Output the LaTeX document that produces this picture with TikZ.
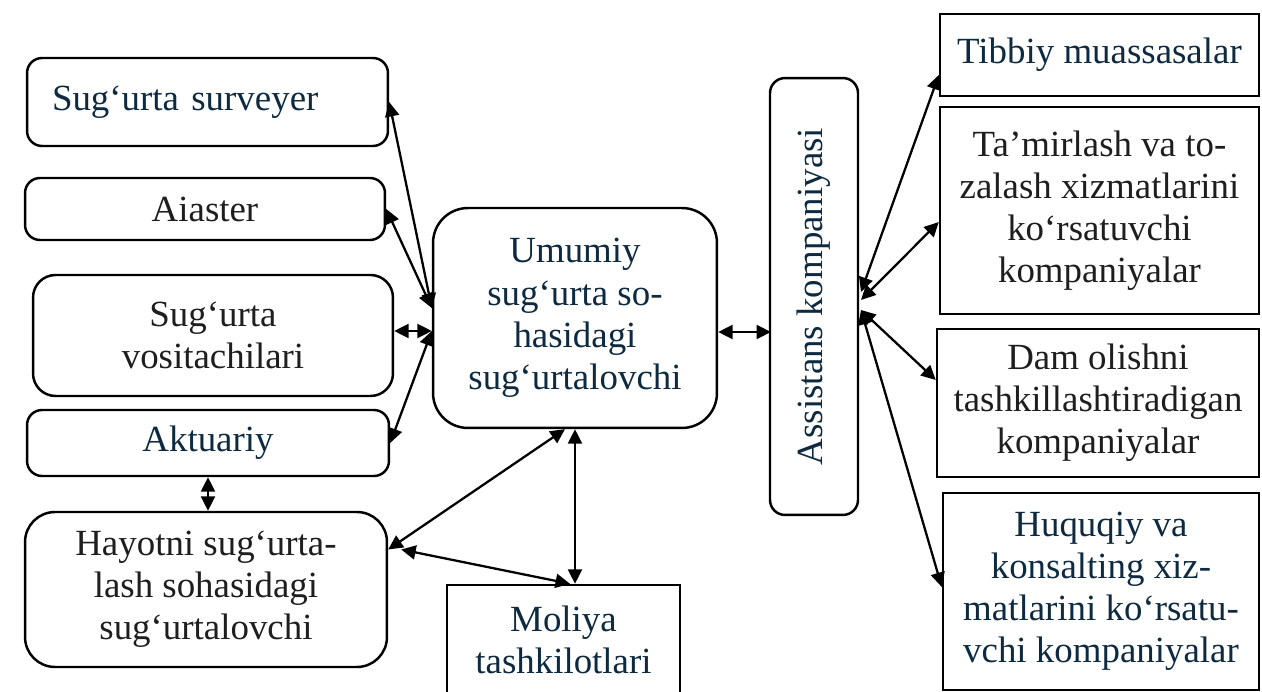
\documentclass[tikz,border=0pt]{standalone}
\usepackage{fontspec}
\setmainfont{Liberation Serif}
\usetikzlibrary{arrows.meta}
\definecolor{navy}{HTML}{0E2A40}
\definecolor{ink}{HTML}{1E1E1E}

\begin{document}
\begin{tikzpicture}[x=0.02cm,y=-0.02cm,
  every node/.style={font=\fontsize{21}{24}\selectfont},
  rbox/.style={draw,line width=1.4pt,rounded corners=0.3cm,align=center,inner sep=0pt},
  sbox/.style={draw,line width=1.4pt,align=center,inner sep=0pt},
  link/.style={{Triangle[length=0.29cm,width=0.28cm]}-{Triangle[length=0.29cm,width=0.28cm]},line width=1.3pt}]

\useasboundingbox (0,0) rectangle (1262,692);
\clip (0,0) rectangle (1262,692);

% left column
\node[rbox,text=navy,minimum width=7.22cm,minimum height=1.76cm,text width=6.22cm,align=left] (surv) at (207.5,102) {Sug‘urta surveyer};
\node[rbox,text=ink,minimum width=7.2cm,minimum height=1.24cm] (aia) at (205,209) {Aiaster};
\node[rbox,text=ink,minimum width=7.2cm,minimum height=2.42cm,rounded corners=0.45cm] (vos) at (213,335.5) {Sug‘urta\\vositachilari};
\node[rbox,text=navy,minimum width=7.24cm,minimum height=1.32cm] (akt) at (208,443) {Aktuariy};
\node[rbox,text=ink,minimum width=7.24cm,minimum height=3.1cm,rounded corners=0.6cm] (hay) at (206,589.5) {Hayotni sug‘urta-\\lash sohasidagi\\sug‘urtalovchi};
\node[sbox,text=navy,minimum width=4.66cm,minimum height=2.2cm] (mol) at (563.5,640) {Moliya\\tashkilotlari};

% centre
\node[rbox,text=navy,minimum width=5.68cm,minimum height=4.4cm,rounded corners=0.7cm] (umu) at (575,318) {Umumiy\\sug‘urta so-\\hasidagi\\sug‘urtalovchi};
\node[rbox,text=navy,minimum width=8.74cm,minimum height=1.76cm,rotate=90] (ast) at (814,296.5) {Assistans kompaniyasi};

% right column
\node[sbox,text=navy,minimum width=6.38cm,minimum height=1.64cm] (tib) at (1099.5,55) {Tibbiy muassasalar};
\node[sbox,text=ink,minimum width=6.38cm,minimum height=4.14cm] (tam) at (1099.5,210.5) {Ta’mirlash va to-\\zalash xizmatlarini\\ko‘rsatuvchi\\kompaniyalar};
\node[sbox,text=ink,minimum width=6.44cm,minimum height=2.96cm] (dam) at (1098,403) {Dam olishni\\tashkillashtiradigan\\kompaniyalar};
\node[sbox,text=navy,minimum width=6.32cm,minimum height=3.94cm] (huq) at (1101,591.5) {Huquqiy va\\konsalting xiz-\\matlarini ko‘rsatu-\\vchi kompaniyalar};

\coordinate (jl1) at ([yshift=0.2cm]umu.west);
\coordinate (jl2) at ([yshift=-0.26cm]umu.west);
\coordinate (ja) at (771,332);
\coordinate (jr1) at (861,292);
\coordinate (jr2) at (861,300);
\coordinate (jr3) at (861,310);

\draw[link] (jl1) -- (surv.east);
\draw[link] (jl1) -- (aia.east);
\draw[link] (jl2) -- (vos.east |- jl2);
\draw[link] (jl2) -- (akt.east);
\draw[link] (umu.east |- ja) -- (ja);
\draw[link] (akt.south) -- (akt.south |- hay.north);
\draw[link] ([xshift=-0.2cm]umu.south) -- ([yshift=0.8cm]hay.east);
\draw[link] (umu.south) -- (umu.south |- mol.north);
\draw[link] ([yshift=0.8cm,xshift=0.26cm]hay.east) -- ([xshift=0.13cm]mol.north);

\draw[link] (jr1) -- ([yshift=-0.4cm]tib.west);
\draw[link] (jr2) -- ([yshift=-0.23cm]tam.west);
\draw[link] (jr3) -- ([yshift=0.46cm]dam.west);
\draw[link] (jr3) -- ([yshift=0.09cm]huq.west);

\end{tikzpicture}
\end{document}
